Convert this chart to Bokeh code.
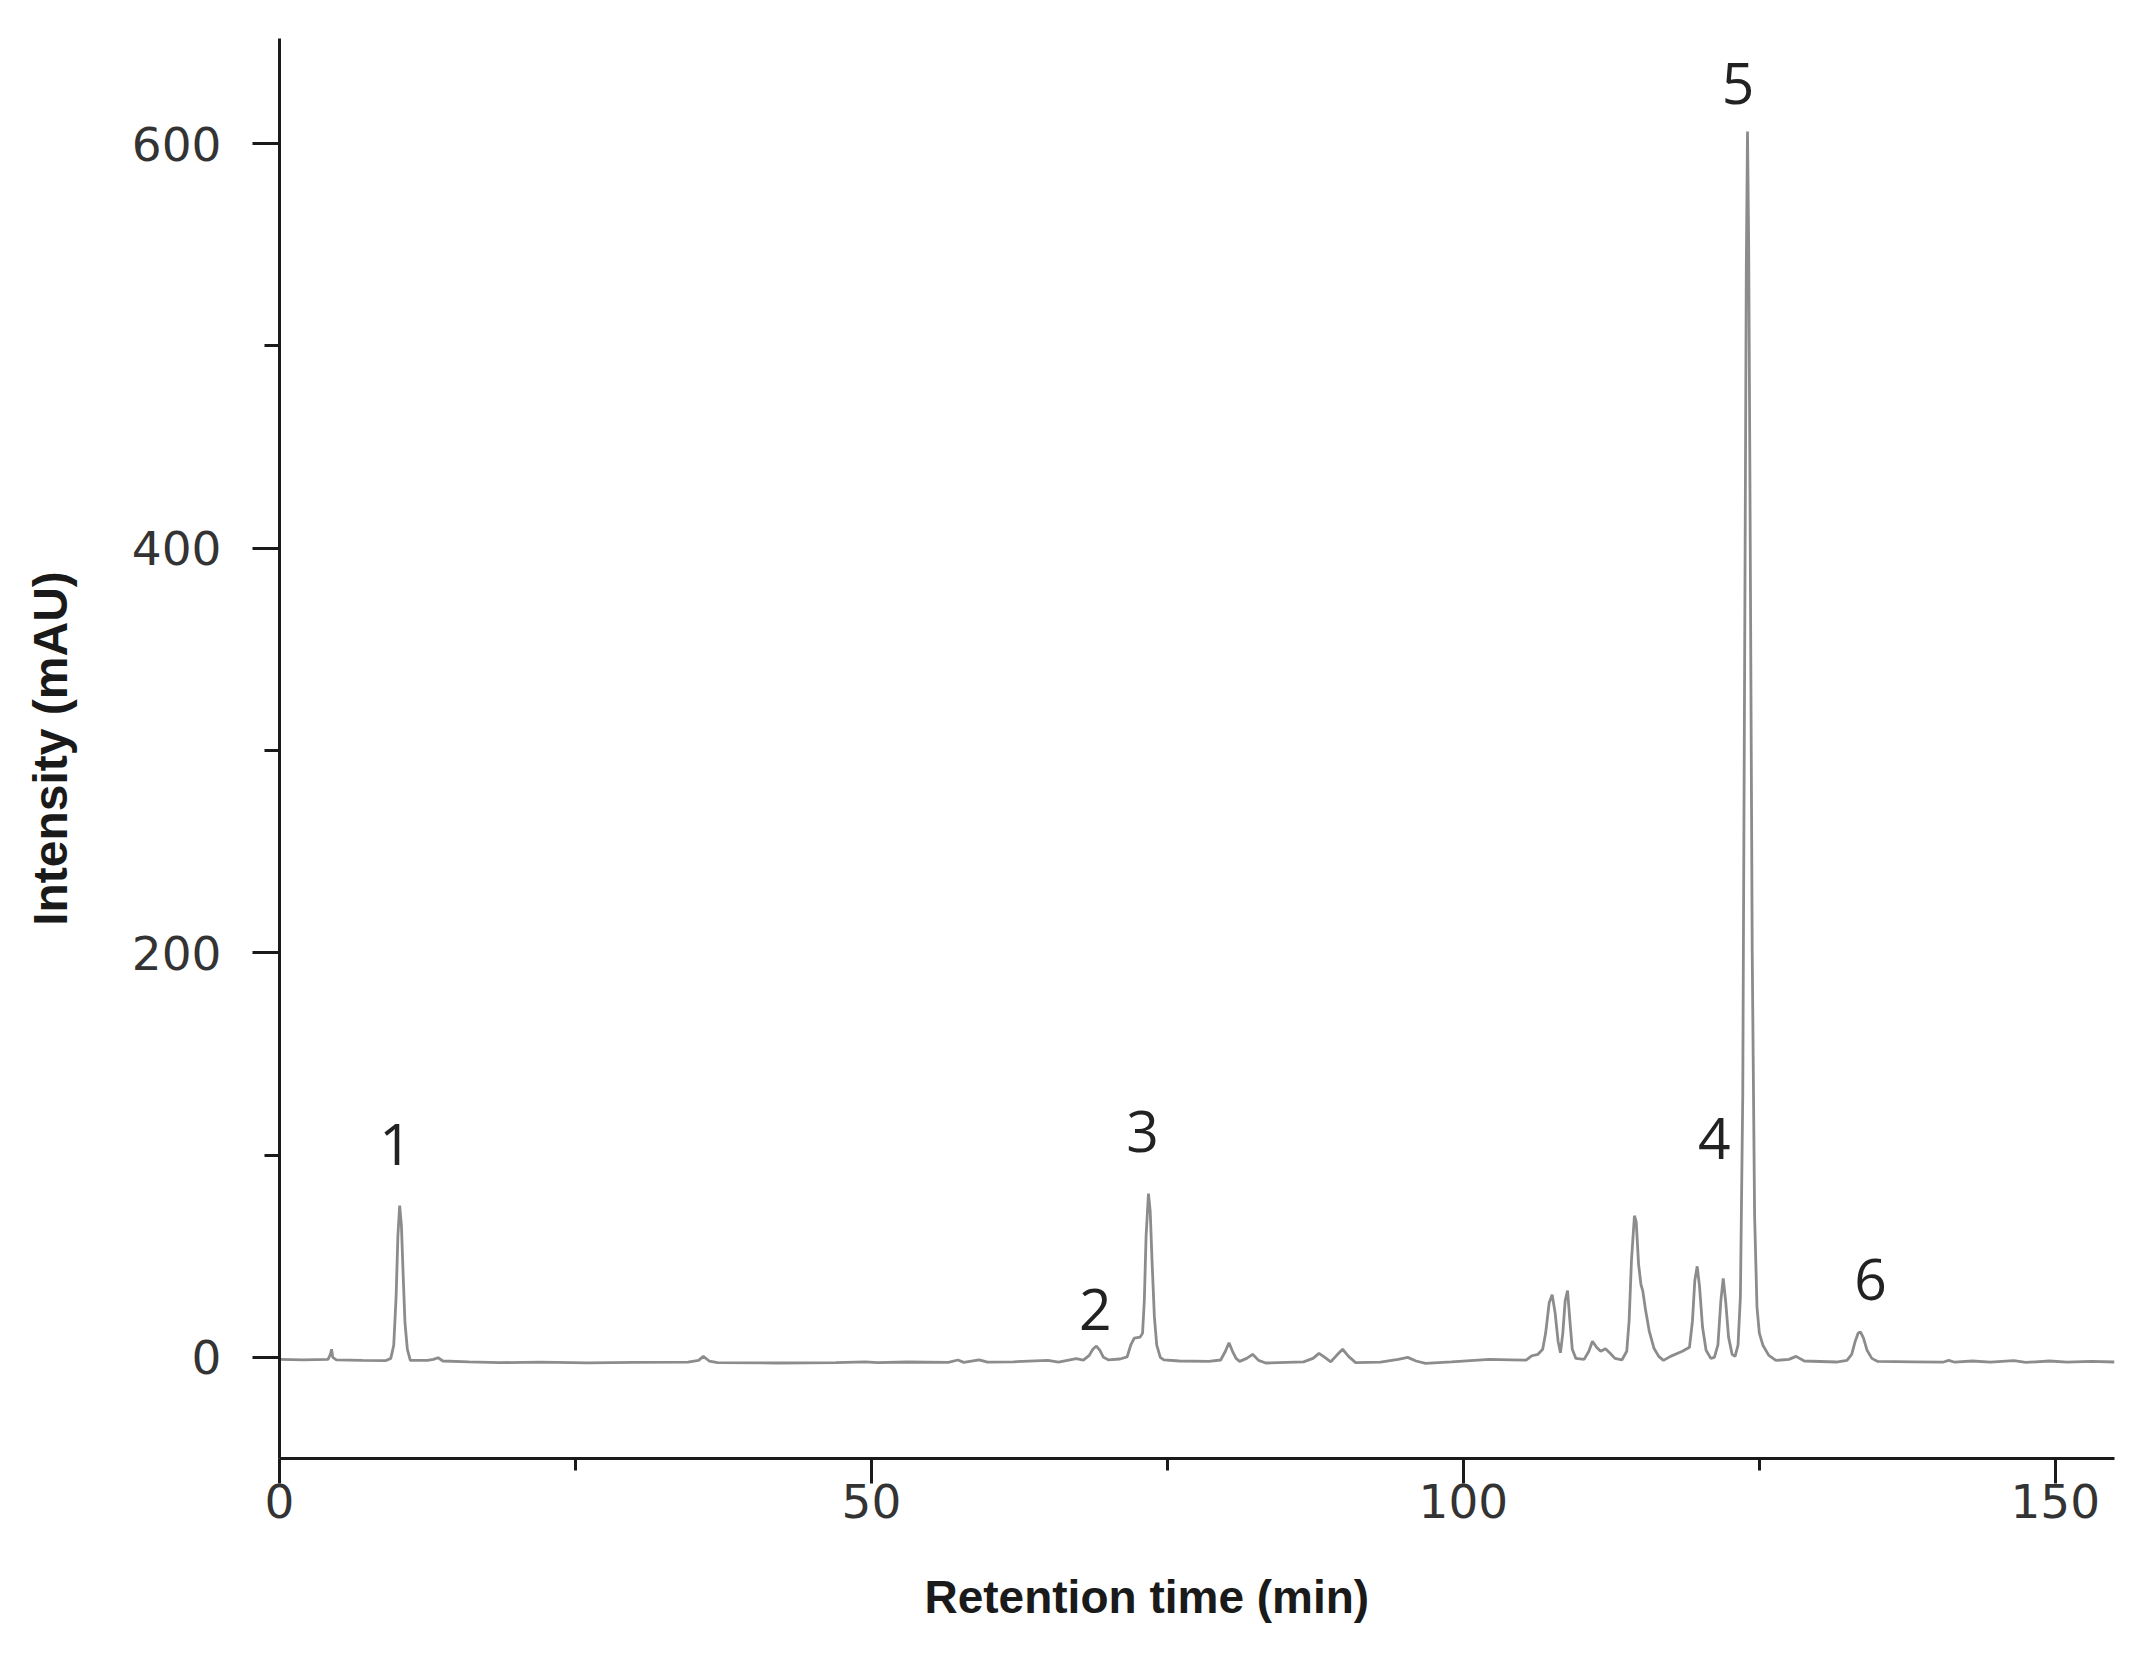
from bokeh.plotting import figure
from bokeh.models import Range1d, FixedTicker, Title, ColumnDataSource
from bokeh.core.properties import value
from bokeh.embed import file_html
from bokeh.resources import INLINE

# ---- data ----
rt_min = [0.0, 2.0, 4.1, 4.3, 4.4, 4.5, 4.8, 7.0, 9.0, 9.4, 9.65, 9.85, 10.0, 10.15, 10.3, 10.45,
          10.6, 10.8, 11.05, 12.5, 13.0, 13.4, 13.8, 16.0, 18.6, 22.0, 26.0, 30.0, 34.5, 35.4,
          35.8, 36.3, 37.0, 42.0, 47.0, 49.5, 50.5, 53.0, 56.5, 57.3, 57.8, 59.1, 59.8, 62.0,
          64.9, 65.8, 67.3, 67.9, 68.4, 68.7, 69.0, 69.3, 69.6, 70.0, 71.0, 71.6, 71.9, 72.2,
          72.7, 72.9, 73.05, 73.2, 73.4, 73.55, 73.7, 73.9, 74.1, 74.4, 74.7, 76.0, 78.5, 79.5,
          79.9, 80.2, 80.5, 80.8, 81.1, 81.7, 82.2, 82.7, 83.3, 86.5, 87.3, 87.8, 88.3, 88.8,
          89.3, 89.8, 90.3, 90.9, 93.0, 94.5, 95.3, 96.0, 96.8, 99.0, 102.2, 104.0, 105.3,
          105.8, 106.3, 106.7, 106.95, 107.25, 107.5, 107.75, 108.0, 108.2, 108.4, 108.6,
          108.8, 109.0, 109.2, 109.5, 110.2, 110.6, 110.9, 111.25, 111.6, 112.0, 112.4, 112.8,
          113.4, 113.8, 114.0, 114.2, 114.45, 114.6, 114.8, 115.0, 115.15, 115.4, 115.7, 116.1,
          116.5, 116.9, 117.5, 118.5, 119.1, 119.35, 119.55, 119.75, 119.95, 120.2, 120.5,
          120.9, 121.2, 121.5, 121.75, 121.95, 122.15, 122.4, 122.7, 122.95, 123.2, 123.4,
          123.6, 123.8, 123.9, 124.0, 124.1, 124.2, 124.4, 124.6, 124.8, 125.0, 125.3, 125.8,
          126.4, 127.5, 128.1, 128.8, 131.5, 132.4, 132.8, 133.1, 133.35, 133.55, 133.8, 134.1,
          134.5, 135.0, 138.0, 140.5, 141.0, 141.5, 143.0, 144.5, 146.5, 147.5, 149.5, 151.0,
          153.0, 155.0]
intensity_mau = [-1.0, -1.2, -1.0, 1.5, 4.0, 0.0, -1.2, -1.5, -1.6, -0.5, 6, 30, 60, 75, 65, 40,
                 17, 4, -1.5, -1.5, -1.0, -0.2, -1.8, -2.2, -2.6, -2.4, -2.7, -2.5, -2.4, -1.5,
                 0.5, -1.8, -2.6, -2.8, -2.6, -2.2, -2.6, -2.3, -2.5, -1.3, -2.5, -1.2, -2.4, -2.2,
                 -1.5, -2.4, -0.6, -1.4, 1.0, 4.0, 5.6, 3.5, 0.0, -1.2, -0.8, 0.2, 6.0, 9.5,
                 10.0, 12.0, 28, 60, 81, 72, 48, 20, 6, 0, -1.2, -1.8, -2.0, -1.3,
                 3.0, 7.2, 3.0, -0.5, -2.0, -0.5, 1.5, -1.5, -2.8, -2.2, -0.5, 2.0, 0.0, -2.2,
                 1.0, 4.0, 0.5, -2.6, -2.4, -1.0, 0.0, -1.8, -3.0, -2.2, -1.0, -1.2, -1.4,
                 0.8, 1.5, 4.0, 12, 27, 31, 22, 8, 2.3, 12, 28,
                 33, 18, 4, -0.5, -1.0, 3.0, 8.0, 5.0, 3.0, 4.3, 2.0, -0.5,
                 -1.2, 3.0, 18, 48, 70, 67, 46, 36, 33, 23, 13, 4.5,
                 0.5, -1.5, 0.5, 3.0, 5.0, 18, 38, 45, 35, 15, 3.5,
                 -0.5, 0.0, 6, 28, 39, 28, 10, 1.5, 0.5, 6, 30,
                 130, 400, 540, 606, 550, 440, 200, 70, 25, 12, 6, 1.0,
                 -1.5, -1.0, 0.5, -1.8, -2.3, -1.5, 1.5, 8.0, 12, 12.5, 9.5, 3.5,
                 -0.5, -2.0, -2.2, -2.4, -1.5, -2.4, -1.8, -2.4, -1.6, -2.5, -1.8, -2.4,
                 -2.0, -2.3]

peak_names = ["1", "2", "3", "4", "5", "6"]
peak_label_x = [9.8, 68.9, 72.9, 121.2, 123.2, 134.4]
peak_label_y = [105, 23.5, 111.5, 108, 630, 38.5]

x_major_ticks = [0, 50, 100, 150]
x_minor_ticks = [25, 75, 125]
y_major_ticks = [0, 200, 400, 600]
y_minor_ticks = [100, 300, 500]

x_title = "Retention time (min)"
y_title = "Intensity (mAU)"

# ---- figure ----
p = figure(width=2130, height=1670,
           x_range=Range1d(0, 155), y_range=Range1d(-50, 652),
           output_backend="svg", toolbar_location=None,
           min_border_left=279, min_border_right=16,
           min_border_top=38, min_border_bottom=211)
p.outline_line_color = None
p.xgrid.visible = False
p.ygrid.visible = False
p.background_fill_color = "white"
p.border_fill_color = "white"

p.line(rt_min, intensity_mau, line_color="#8c8c8c", line_width=2.8)

src = ColumnDataSource(dict(x=peak_label_x, y=peak_label_y, t=peak_names))
p.text(x="x", y="y", text="t", source=src, text_align="center",
       text_baseline="alphabetic", text_font=value("Open Sans"),
       text_font_size="57px", text_color="#222222")

for ax, maj, mnr in ((p.xaxis[0], x_major_ticks, x_minor_ticks),
                     (p.yaxis[0], y_major_ticks, y_minor_ticks)):
    ax.ticker = FixedTicker(ticks=maj, minor_ticks=mnr)
    ax.axis_line_color = "#1a1a1a"
    ax.axis_line_width = 3
    ax.major_tick_line_color = "#1a1a1a"
    ax.major_tick_line_width = 3
    ax.minor_tick_line_color = "#1a1a1a"
    ax.minor_tick_line_width = 3
    ax.major_tick_in = 0
    ax.minor_tick_in = 0
    ax.major_label_text_font = "DejaVu Sans"
    ax.major_label_text_font_size = "47px"
    ax.major_label_text_color = "#333333"

p.yaxis[0].major_tick_out = 27
p.yaxis[0].minor_tick_out = 15
p.yaxis[0].major_label_standoff = 31
p.yaxis[0].axis_label = y_title
p.yaxis[0].axis_label_text_font = "Liberation Sans"
p.yaxis[0].axis_label_text_font_style = "bold"
p.yaxis[0].axis_label_text_font_size = "48px"
p.yaxis[0].axis_label_text_color = "#1a1a1a"
p.yaxis[0].axis_label_standoff = 52

p.xaxis[0].major_tick_out = 25
p.xaxis[0].minor_tick_out = 12
p.xaxis[0].major_label_standoff = 0

xt = Title(text=x_title, align="left", offset=645, standoff=96,
           text_font="Liberation Sans", text_font_style="bold",
           text_font_size="46px", text_color="#1a1a1a")
p.add_layout(xt, "below")

open("out.html", "w").write(file_html(p, INLINE))
